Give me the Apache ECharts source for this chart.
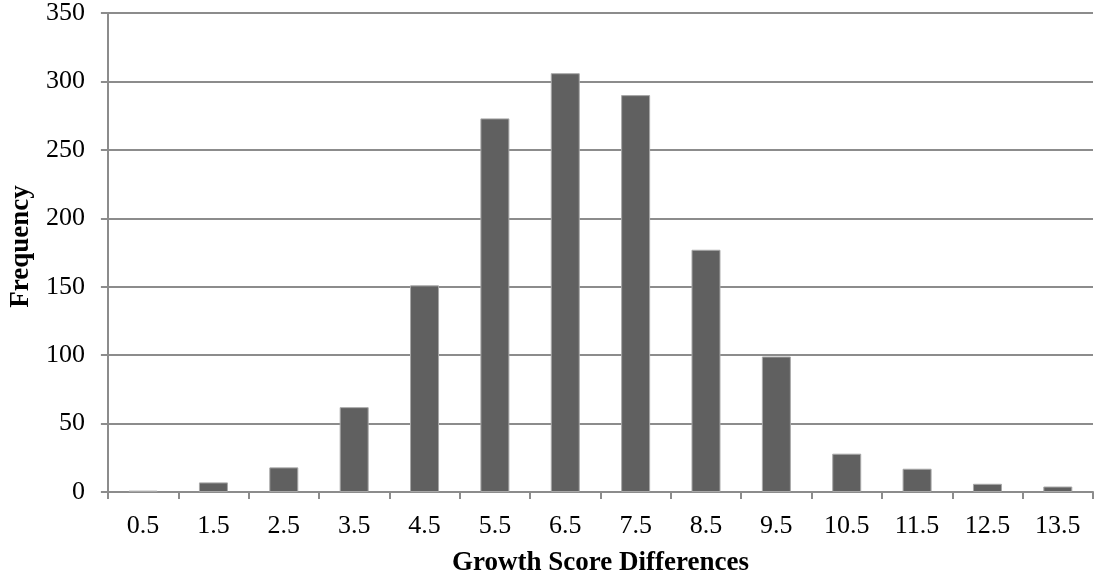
<!DOCTYPE html>
<html>
<head>
<meta charset="utf-8">
<script src="https://cdn.jsdelivr.net/npm/echarts@6/dist/echarts.min.js"></script>
<style>
html,body{margin:0;padding:0;background:#fff;}
#chart{width:1094px;height:582px;}
</style>
</head>
<body>
<div id="chart"></div>
<script>
const categories = ["0.5","1.5","2.5","3.5","4.5","5.5","6.5","7.5","8.5","9.5","10.5","11.5","12.5","13.5"];
const frequency = [1, 7, 18, 62, 151, 273, 306, 290, 177, 99, 28, 17, 6, 4];
const xAxisTitle = "Growth Score Differences";
const yAxisTitle = "Frequency";

const chart = echarts.init(document.getElementById('chart'));
const font = "'Liberation Serif', 'DejaVu Serif', serif";
chart.setOption({
  animation: false,
  backgroundColor: '#ffffff',
  grid: { left: 100, right: 1, top: 12, bottom: 86, containLabel: false },
  xAxis: {
    type: 'category',
    data: categories,
    name: xAxisTitle,
    nameLocation: 'middle',
    nameGap: 58,
    nameTextStyle: { fontFamily: font, fontWeight: 'bold', fontSize: 27, color: '#000' },
    axisLine: { lineStyle: { color: '#8c8c8c', width: 2 } },
    axisTick: { show: true, length: 7, alignWithLabel: false, lineStyle: { color: '#8c8c8c', width: 2 } },
    axisLabel: { fontFamily: font, fontSize: 26, color: '#000', margin: 21 }
  },
  yAxis: {
    type: 'value',
    min: 0, max: 350, interval: 50,
    name: yAxisTitle,
    nameLocation: 'middle',
    nameGap: 72,
    nameTextStyle: { fontFamily: font, fontWeight: 'bold', fontSize: 27, color: '#000', padding: [0, 0, 0, 12] },
    axisLine: { show: true, lineStyle: { color: '#8c8c8c', width: 2 } },
    axisTick: { show: true, length: 7, lineStyle: { color: '#8c8c8c', width: 2 } },
    axisLabel: { fontFamily: font, fontSize: 26, color: '#000', margin: 23 },
    splitLine: { show: true, lineStyle: { color: '#8c8c8c', width: 2 } }
  },
  series: [{
    type: 'bar',
    data: frequency,
    barWidth: 29,
    itemStyle: { color: '#606060', borderColor: '#a8a8a8', borderWidth: 1 }
  }]
});
</script>
</body>
</html>
